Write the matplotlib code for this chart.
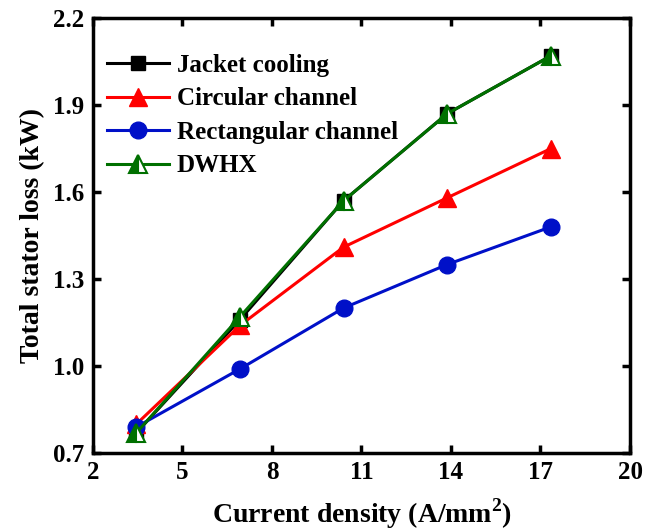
import matplotlib
matplotlib.use("Agg")
import matplotlib.pyplot as plt

current_density = [3.46, 6.93, 10.4, 13.87, 17.35]
jacket = [0.77, 1.16, 1.57, 1.87, 2.07]
circular = [0.80, 1.14, 1.41, 1.58, 1.75]
rectangular = [0.79, 0.99, 1.20, 1.35, 1.48]
dwhx = [0.77, 1.17, 1.57, 1.87, 2.07]
labels = ["Jacket cooling", "Circular channel", "Rectangular channel", "DWHX"]
xticks = [2, 5, 8, 11, 14, 17, 20]
yticks = [0.7, 1.0, 1.3, 1.6, 1.9, 2.2]

plt.rcParams['font.family'] = ['Liberation Serif', 'DejaVu Serif']
plt.rcParams['font.weight'] = 'bold'
plt.rcParams['mathtext.fontset'] = 'custom'
plt.rcParams['mathtext.rm'] = 'Liberation Serif:bold'

fig = plt.figure(figsize=(6.59, 5.32), dpi=100)
ax = fig.add_axes([0.141, 0.1485, 0.815, 0.8175])

lw = 2.2
ax.plot(current_density, jacket, color='black', marker='s', ms=10, lw=lw, label=labels[0])
ax.plot(current_density, circular, color='#ff0000', marker='^', ms=13, lw=lw, label=labels[1])
ax.plot(current_density, rectangular, color='#0010c8', marker='o', ms=12, lw=lw, label=labels[2])
ax.plot(current_density, dwhx, color='#007000', marker='^', ms=13, lw=lw, label=labels[3],
        fillstyle='left', markerfacecoloralt='white', markeredgecolor='#007000', markeredgewidth=1.5)

ax.set_xlim(2, 20)
ax.set_ylim(0.7, 2.2)
ax.set_xticks(xticks)
ax.set_yticks(yticks)
ax.set_yticklabels([f"{v:.1f}" for v in yticks])
ax.tick_params(direction='in', width=2.5, length=6, labelsize=18, top=True, right=True, pad=6)
for s in ax.spines.values():
    s.set_linewidth(2.5)

ax.set_xlabel("Current density (A/mm$^2$)", fontsize=20, fontweight='bold', labelpad=9)
ax.set_ylabel("Total stator loss (kW)", fontsize=20, fontweight='bold', labelpad=6)

leg = ax.legend(loc='upper left', bbox_to_anchor=(0.026, 0.918), frameon=False,
                handlelength=2.5, handletextpad=0.3, labelspacing=0.42,
                borderaxespad=0, borderpad=0,
                prop={'weight': 'bold', 'size': 18})

fig.savefig("out.png", dpi=100)
